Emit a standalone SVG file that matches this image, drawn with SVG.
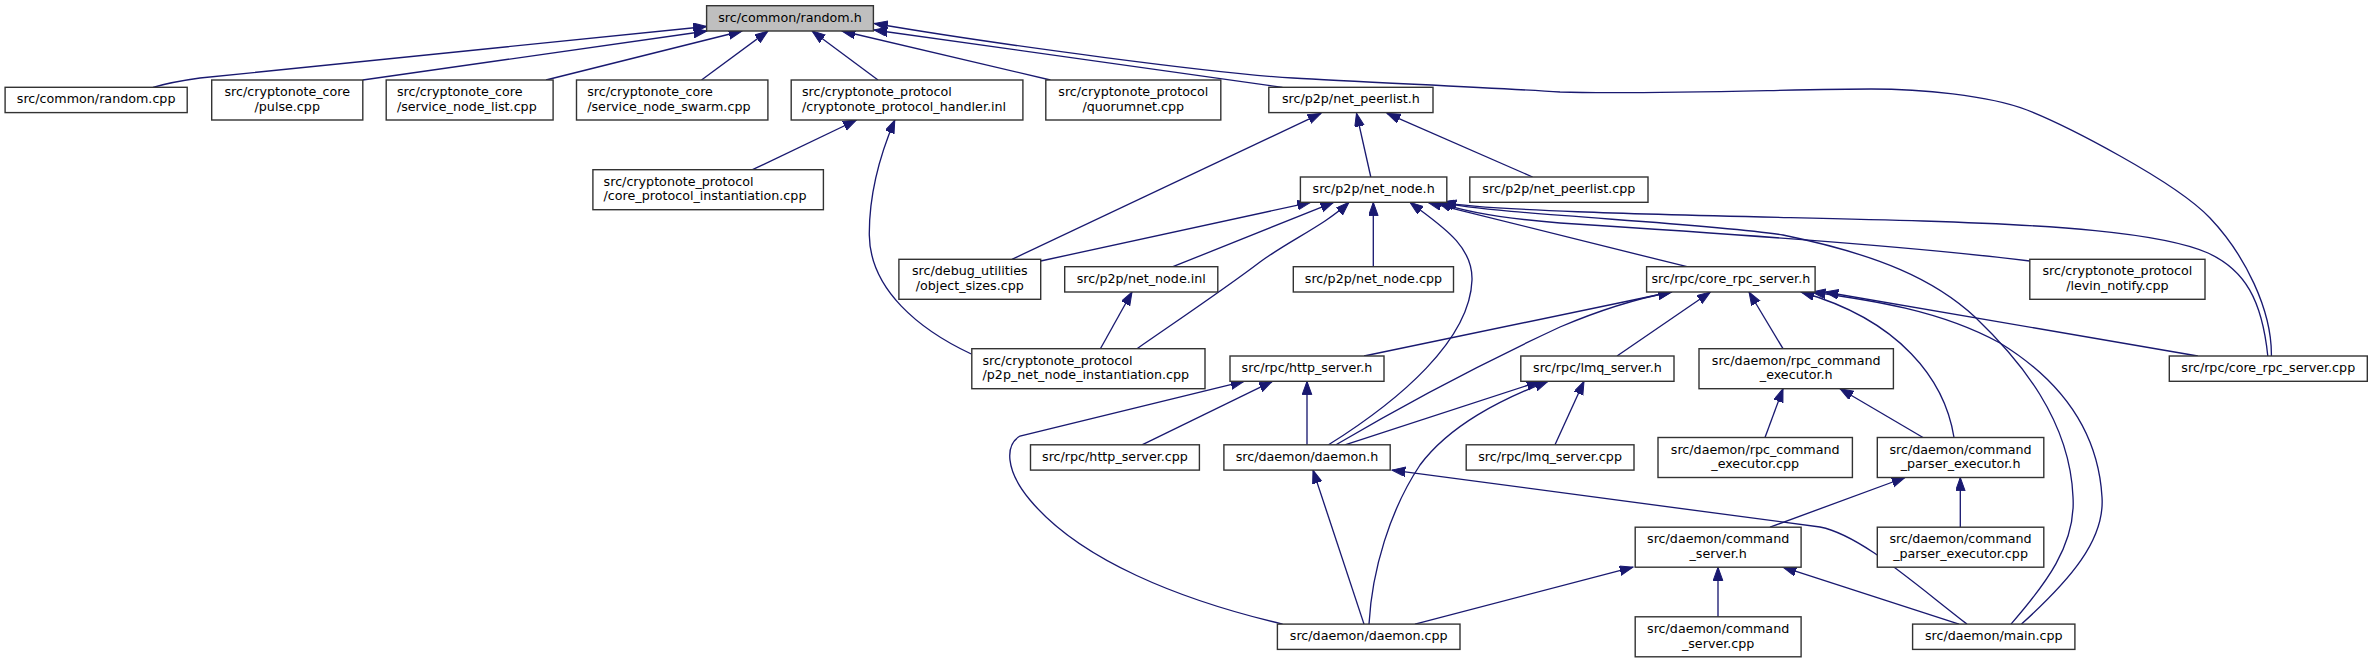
<svg xmlns="http://www.w3.org/2000/svg" width="2373" height="663" viewBox="0 0 2373 663">
<style>
.node rect{fill:#ffffff;stroke:#333333;stroke-width:1.4}
#n0 rect{fill:#bfbfbf}
.node text{font-family:"DejaVu Sans","Liberation Sans",sans-serif;font-size:12.7px;fill:#000}
.c{text-anchor:middle}
.l{text-anchor:start}
.edges path{fill:none;stroke:#191970;stroke-width:1.33;marker-end:url(#ah)}
</style>
<defs>
<marker id="ah" markerUnits="userSpaceOnUse" markerWidth="15" markerHeight="11" refX="13.3" refY="4.8" orient="auto">
<path d="M0,0 L13.3,4.8 L0,9.6 z" fill="#191970" stroke="#191970" stroke-width="1"/>
</marker>
</defs>
<rect width="2373" height="663" fill="#ffffff"/>
<g class="edges">
<path d="M153,87.3 C168,83 182,80.5 200,78 L706.6,26.5"/>
<path d="M362.8,80 L707,31"/>
<path d="M546,80 L742,31"/>
<path d="M701.5,80 L768,31"/>
<path d="M878,80 L812,31"/>
<path d="M1050.4,80 L842,31"/>
<path d="M1282.5,87.3 L874,30"/>
<path d="M2271.4,356 C2272,310 2245,255 2210,218 C2175,181 2065,125 2027,110 C1988,95 1920,89 1871,89 C1800,89 1640,95 1560,92 C1500,88 1360,82 1293,78 C1220,74 1000,45 874.4,23.5"/>
<path d="M1012,259.3 L1321,113.3"/>
<path d="M1370.8,177 L1356.5,113.3"/>
<path d="M1532.6,177 L1387,113.3"/>
<path d="M752.5,169.7 L856.5,120"/>
<path d="M971.3,354 C920,330 870,290 869.3,235 C869,190 882,150 894.8,120"/>
<path d="M1040.7,261 L1310.6,202.3"/>
<path d="M1172.9,266.7 L1333.6,202.3"/>
<path d="M1137,348.7 C1190,312 1230,285 1260,262 C1290,240 1325,225 1349,202.3"/>
<path d="M1373.3,266.7 L1373.3,202.3"/>
<path d="M1328.5,444.8 C1400,400 1470,340 1472,280 C1473,245 1440,225 1410,202.3"/>
<path d="M1687,266.7 L1428,202.3"/>
<path d="M2029.8,261 C1900,245 1700,232 1560,223 C1510,219 1465,212 1438,202.3"/>
<path d="M2267.8,356 C2262,300 2245,270 2208,253 C2160,232 2050,225 1923,221 C1750,216 1500,213 1443,202.3"/>
<path d="M2011,624.1 C2045,585 2076,545 2073,497 C2070,420 2020,360 1975,317 C1935,280 1880,255 1783,235 C1700,222 1500,215 1440,202.3"/>
<path d="M1100.4,348.7 L1132,292"/>
<path d="M1364,356 L1671.5,292"/>
<path d="M1336,444.8 C1420,395 1500,355 1560,327 C1600,310 1640,298 1671.5,292"/>
<path d="M1617,356 L1710.4,292"/>
<path d="M1783,348.7 L1749,292"/>
<path d="M1954,437.5 C1945,380 1900,320 1801,292"/>
<path d="M2021.5,624.1 C2070,580 2105,540 2102,497 C2098,430 2060,380 2000,343 C1940,310 1870,300 1812,292"/>
<path d="M2197.8,356 L1825,292"/>
<path d="M1142,444.8 L1272.3,381.3"/>
<path d="M1307,444.8 L1307,381.3"/>
<path d="M1282.6,624.1 C1180,600 1080,560 1030,500 C1005,470 1005,445 1020,436 L1244,381.3"/>
<path d="M1345,444.8 L1540,381.3"/>
<path d="M1555,444.8 L1584,381.3"/>
<path d="M1369,624.1 C1372,570 1390,510 1420,465 C1450,425 1500,400 1548,381.3"/>
<path d="M1765,437.5 L1783,388.7"/>
<path d="M1923,437.5 L1840,388.7"/>
<path d="M1364,624.1 L1313,470.1"/>
<path d="M1967,624.1 C1910,580 1860,535 1820,527 L1392,470.1"/>
<path d="M1770,527.2 L1905,477.5"/>
<path d="M1960.3,527.2 L1960.3,477.5"/>
<path d="M1415,624.1 L1633,567.2"/>
<path d="M1718,616.8 L1718,567.2"/>
<path d="M1959,624.1 L1783,567.2"/>
</g>
<g id="n0" class="node"><rect x="706.6" y="5.7" width="166.8" height="25.3"/><text class="c" x="790" y="21.7">src/common/random.h</text></g>
<g id="n1" class="node"><rect x="5.1" y="87.3" width="182.1" height="25.3"/><text class="c" x="96.15" y="103.3">src/common/random.cpp</text></g>
<g id="n2" class="node"><rect x="211.7" y="80" width="151.1" height="40"/><text class="c" x="287.25" y="96">src/cryptonote_core</text><text class="c" x="287.25" y="110.7">/pulse.cpp</text></g>
<g id="n3" class="node"><rect x="386.2" y="80" width="166.9" height="40"/><text class="l" x="396.9" y="96">src/cryptonote_core</text><text class="l" x="396.9" y="110.7">/service_node_list.cpp</text></g>
<g id="n4" class="node"><rect x="576.5" y="80" width="191.4" height="40"/><text class="l" x="587.2" y="96">src/cryptonote_core</text><text class="l" x="587.2" y="110.7">/service_node_swarm.cpp</text></g>
<g id="n5" class="node"><rect x="791.2" y="80" width="231.7" height="40"/><text class="l" x="801.9" y="96">src/cryptonote_protocol</text><text class="l" x="801.9" y="110.7">/cryptonote_protocol_handler.inl</text></g>
<g id="n6" class="node"><rect x="1045.8" y="80" width="175" height="40"/><text class="c" x="1133.3" y="96">src/cryptonote_protocol</text><text class="c" x="1133.3" y="110.7">/quorumnet.cpp</text></g>
<g id="n7" class="node"><rect x="1268.8" y="87.3" width="164.2" height="25.3"/><text class="c" x="1350.9" y="103.3">src/p2p/net_peerlist.h</text></g>
<g id="n8" class="node"><rect x="592.9" y="169.7" width="230.5" height="40"/><text class="l" x="603.6" y="185.7">src/cryptonote_protocol</text><text class="l" x="603.6" y="200.4">/core_protocol_instantiation.cpp</text></g>
<g id="n9" class="node"><rect x="1300.4" y="177" width="146.4" height="25.3"/><text class="c" x="1373.6" y="193">src/p2p/net_node.h</text></g>
<g id="n10" class="node"><rect x="1469.8" y="177" width="178.2" height="25.3"/><text class="c" x="1558.9" y="193">src/p2p/net_peerlist.cpp</text></g>
<g id="n11" class="node"><rect x="898.9" y="259.3" width="141.8" height="40"/><text class="c" x="969.8" y="275.3">src/debug_utilities</text><text class="c" x="969.8" y="290">/object_sizes.cpp</text></g>
<g id="n12" class="node"><rect x="1064.7" y="266.7" width="153.1" height="25.3"/><text class="c" x="1141.25" y="282.7">src/p2p/net_node.inl</text></g>
<g id="n13" class="node"><rect x="1293.3" y="266.7" width="160.2" height="25.3"/><text class="c" x="1373.4" y="282.7">src/p2p/net_node.cpp</text></g>
<g id="n14" class="node"><rect x="1646.6" y="266.7" width="168.5" height="25.3"/><text class="c" x="1730.85" y="282.7">src/rpc/core_rpc_server.h</text></g>
<g id="n15" class="node"><rect x="2029.8" y="259.3" width="175.2" height="40"/><text class="c" x="2117.4" y="275.3">src/cryptonote_protocol</text><text class="c" x="2117.4" y="290">/levin_notify.cpp</text></g>
<g id="n16" class="node"><rect x="971.8" y="348.7" width="233.2" height="40"/><text class="l" x="982.5" y="364.7">src/cryptonote_protocol</text><text class="l" x="982.5" y="379.4">/p2p_net_node_instantiation.cpp</text></g>
<g id="n17" class="node"><rect x="1230" y="356" width="154" height="25.3"/><text class="c" x="1307" y="372">src/rpc/http_server.h</text></g>
<g id="n18" class="node"><rect x="1520.8" y="356" width="153.2" height="25.3"/><text class="c" x="1597.4" y="372">src/rpc/lmq_server.h</text></g>
<g id="n19" class="node"><rect x="1699" y="348.7" width="194.4" height="40"/><text class="c" x="1796.2" y="364.7">src/daemon/rpc_command</text><text class="c" x="1796.2" y="379.4">_executor.h</text></g>
<g id="n20" class="node"><rect x="2169.3" y="356" width="198" height="25.3"/><text class="c" x="2268.3" y="372">src/rpc/core_rpc_server.cpp</text></g>
<g id="n21" class="node"><rect x="1030.5" y="444.8" width="168.9" height="25.3"/><text class="c" x="1114.95" y="460.8">src/rpc/http_server.cpp</text></g>
<g id="n22" class="node"><rect x="1223.9" y="444.8" width="166.3" height="25.3"/><text class="c" x="1307.05" y="460.8">src/daemon/daemon.h</text></g>
<g id="n23" class="node"><rect x="1466.2" y="444.8" width="167.8" height="25.3"/><text class="c" x="1550.1" y="460.8">src/rpc/lmq_server.cpp</text></g>
<g id="n24" class="node"><rect x="1658" y="437.5" width="194.4" height="40"/><text class="c" x="1755.2" y="453.5">src/daemon/rpc_command</text><text class="c" x="1755.2" y="468.2">_executor.cpp</text></g>
<g id="n25" class="node"><rect x="1877.3" y="437.5" width="166.5" height="40"/><text class="c" x="1960.55" y="453.5">src/daemon/command</text><text class="c" x="1960.55" y="468.2">_parser_executor.h</text></g>
<g id="n26" class="node"><rect x="1635.2" y="527.2" width="165.9" height="40"/><text class="c" x="1718.15" y="543.2">src/daemon/command</text><text class="c" x="1718.15" y="557.9">_server.h</text></g>
<g id="n27" class="node"><rect x="1877.3" y="527.2" width="166.5" height="40"/><text class="c" x="1960.55" y="543.2">src/daemon/command</text><text class="c" x="1960.55" y="557.9">_parser_executor.cpp</text></g>
<g id="n28" class="node"><rect x="1635.2" y="616.8" width="165.9" height="40"/><text class="c" x="1718.15" y="632.8">src/daemon/command</text><text class="c" x="1718.15" y="647.5">_server.cpp</text></g>
<g id="n29" class="node"><rect x="1277.4" y="624.1" width="182.6" height="25.3"/><text class="c" x="1368.7" y="640.1">src/daemon/daemon.cpp</text></g>
<g id="n30" class="node"><rect x="1912.6" y="624.1" width="162.3" height="25.3"/><text class="c" x="1993.75" y="640.1">src/daemon/main.cpp</text></g>
</svg>
